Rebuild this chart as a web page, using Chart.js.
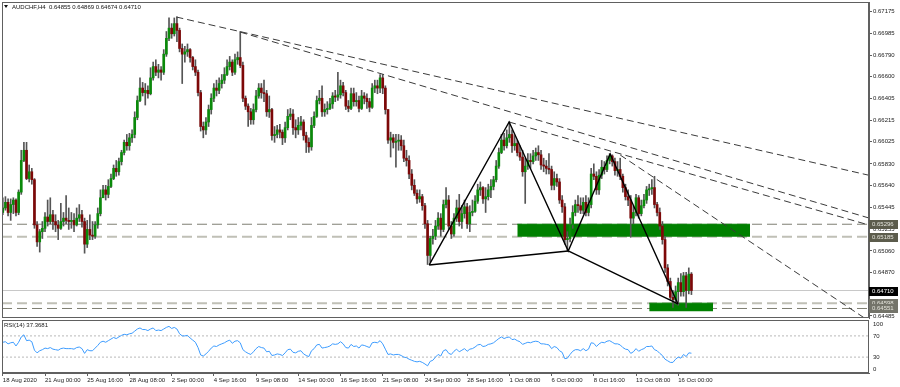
<!DOCTYPE html>
<html>
<head>
<meta charset="utf-8">
<script src="https://cdn.jsdelivr.net/npm/chart.js@4.4.1/dist/chart.umd.min.js"></script>
<style>
  html, body { margin: 0; padding: 0; background: #fff; }
  #wrap { position: relative; width: 900px; height: 387px; overflow: hidden; }
  canvas { position: absolute; left: 0; }
  #price { top: 0; }
  #rsi { top: 319px; }
</style>
</head>
<body>
<div id="wrap">
  <canvas id="price" width="900" height="319"></canvas>
  <canvas id="rsi" width="900" height="68"></canvas>
</div>
<script>
// --- data (H4 bars, index 0 = 18 Aug 2020 08:00) ---
const symbol = 'AUDCHF,H4';
const timeLabels = ['18 Aug 2020', '21 Aug 00:00', '25 Aug 16:00', '28 Aug 08:00', '2 Sep 00:00', '4 Sep 16:00',
  '9 Sep 08:00', '14 Sep 00:00', '16 Sep 16:00', '21 Sep 08:00', '24 Sep 00:00', '28 Sep 16:00',
  '1 Oct 08:00', '6 Oct 00:00', '8 Oct 16:00', '13 Oct 08:00', '16 Oct 00:00'];
const timeTickIdx = [0, 16, 32, 48, 64, 80, 96, 112, 128, 144, 160, 176, 192, 208, 224, 240, 256];
const priceTicks = [0.67175, 0.66985, 0.66790, 0.66600, 0.66405, 0.66215, 0.66025, 0.65830,
  0.65640, 0.65445, 0.65255, 0.65060, 0.64870, 0.64675, 0.64485];
const rsiTicks = [100, 70, 30, 0];
const rsiLevels = [70, 30];

const firstOpen = 0.6540;
const closes = [
  0.6544,0.6549,0.6540,0.6547,0.6551,0.6540,0.6558,0.6586,0.6595,0.6570,
  0.6576,0.6569,0.6529,0.6514,0.6523,0.6526,0.6536,0.6532,0.6538,0.6532,
  0.6529,0.6526,0.6532,0.6535,0.6533,0.6532,0.6533,0.6529,0.6535,0.6538,
  0.6532,0.6512,0.6525,0.6520,0.6519,0.6529,0.6539,0.6553,0.6560,0.6556,
  0.6563,0.6570,0.6579,0.6576,0.6585,0.6593,0.6602,0.6599,0.6606,0.6609,
  0.6624,0.6639,0.6650,0.6646,0.6648,0.6645,0.6659,0.6669,0.6664,0.6666,
  0.6664,0.6680,0.6694,0.6703,0.6698,0.6707,0.6701,0.6685,0.6680,0.6682,
  0.6684,0.6677,0.6669,0.6664,0.6646,0.6616,0.6613,0.6620,0.6631,0.6641,
  0.6650,0.6648,0.6654,0.6657,0.6662,0.6669,0.6673,0.6664,0.6675,0.6677,
  0.6670,0.6641,0.6634,0.6629,0.6622,0.6631,0.6643,0.6650,0.6646,0.6645,
  0.6629,0.6631,0.6608,0.6609,0.6613,0.6611,0.6606,0.6615,0.6625,0.6627,
  0.6615,0.6613,0.6617,0.6620,0.6608,0.6602,0.6598,0.6617,0.6625,0.6639,
  0.6641,0.6629,0.6631,0.6632,0.6636,0.6643,0.6642,0.6644,0.6652,0.6646,
  0.6634,0.6632,0.6645,0.6638,0.6639,0.6632,0.6643,0.6641,0.6638,0.6633,
  0.6650,0.6652,0.6650,0.6659,0.6650,0.6631,0.6604,0.6606,0.6602,0.6603,
  0.6604,0.6599,0.6588,0.6586,0.6574,0.6564,0.6557,0.6552,0.6554,0.6546,
  0.6530,0.6502,0.6517,0.6519,0.6528,0.6535,0.6525,0.6547,0.6551,0.6528,
  0.6521,0.6535,0.6544,0.6532,0.6539,0.6545,0.6530,0.6540,0.6541,0.6550,
  0.6560,0.6562,0.6552,0.6554,0.6560,0.6563,0.6569,0.6581,0.6593,0.6604,
  0.6599,0.6606,0.6609,0.6599,0.6601,0.6593,0.6589,0.6576,0.6581,0.6586,
  0.6585,0.6590,0.6593,0.6591,0.6582,0.6581,0.6579,0.6578,0.6564,0.6570,
  0.6567,0.6551,0.6545,0.6516,0.6517,0.6529,0.6540,0.6547,0.6546,0.6542,
  0.6549,0.6540,0.6547,0.6574,0.6572,0.6560,0.6573,0.6580,0.6578,0.6586,
  0.6590,0.6585,0.6577,0.6578,0.6572,0.6562,0.6554,0.6551,0.6535,0.6540,
  0.6553,0.6539,0.6546,0.6551,0.6560,0.6561,0.6562,0.6547,0.6540,0.6528,
  0.6516,0.6491,0.6479,0.6465,0.6463,0.6470,0.6478,0.6470,0.6484,0.6471,
  0.64855,0.64710
];
const highs = [
  0.6553,0.6554,0.6552,0.6552,0.6553,0.6552,0.6560,0.6595,0.6602,0.6602,
  0.6582,0.6579,0.6570,0.6532,0.6525,0.6532,0.6540,0.6551,0.6553,0.6542,
  0.6538,0.6533,0.6548,0.6540,0.6555,0.6544,0.6540,0.6539,0.6544,0.6547,
  0.6542,0.6535,0.6533,0.6538,0.6532,0.6532,0.6544,0.6560,0.6564,0.6564,
  0.6569,0.6574,0.6582,0.6586,0.6588,0.6595,0.6604,0.6609,0.6610,0.6613,
  0.6629,0.6643,0.6659,0.6655,0.6654,0.6652,0.6668,0.6673,0.6675,0.6671,
  0.6669,0.6684,0.6700,0.6712,0.6707,0.6712,0.6713,0.6703,0.6689,0.6687,
  0.6689,0.6685,0.6678,0.6675,0.6666,0.6648,0.6620,0.6624,0.6635,0.6645,
  0.6654,0.6657,0.6659,0.6662,0.6668,0.6675,0.6678,0.6675,0.6680,0.6682,
  0.6700,0.6673,0.6643,0.6636,0.6632,0.6636,0.6648,0.6654,0.6654,0.6657,
  0.6648,0.6643,0.6632,0.6616,0.6617,0.6618,0.6613,0.6620,0.6631,0.6632,
  0.6631,0.6622,0.6624,0.6625,0.6622,0.6611,0.6606,0.6624,0.6629,0.6643,
  0.6648,0.6652,0.6636,0.6638,0.6641,0.6646,0.6648,0.6664,0.6657,0.6655,
  0.6648,0.6639,0.6650,0.6650,0.6646,0.6643,0.6648,0.6646,0.6645,0.6641,
  0.6654,0.6657,0.6657,0.6662,0.6662,0.6652,0.6631,0.6611,0.6609,0.6609,
  0.6609,0.6608,0.6604,0.6595,0.6590,0.6578,0.6569,0.6560,0.6560,0.6556,
  0.6548,0.6533,0.6519,0.6525,0.6533,0.6540,0.6539,0.6551,0.6562,0.6555,
  0.6532,0.6539,0.6551,0.6556,0.6546,0.6551,0.6548,0.6546,0.6551,0.6555,
  0.6565,0.6567,0.6563,0.6562,0.6565,0.6569,0.6572,0.6586,0.6597,0.6609,
  0.6610,0.6613,0.6620,0.6613,0.6608,0.6604,0.6599,0.6595,0.6588,0.6592,
  0.6592,0.6595,0.6597,0.6599,0.6595,0.6588,0.6586,0.6592,0.6581,0.6576,
  0.6574,0.6570,0.6555,0.6548,0.6523,0.6535,0.6546,0.6551,0.6555,0.6553,
  0.6553,0.6555,0.6553,0.6579,0.6583,0.6576,0.6578,0.6586,0.6585,0.6590,
  0.6592,0.6591,0.6588,0.6585,0.6588,0.6574,0.6565,0.6560,0.6555,0.6546,
  0.6556,0.6555,0.6551,0.6556,0.6563,0.6565,0.6569,0.6572,0.6549,0.6544,
  0.6532,0.6519,0.6494,0.6482,0.6471,0.6475,0.6482,0.6486,0.6487,0.6487,
  0.6491,0.64869
];
const lows = [
  0.6538,0.6542,0.6537,0.6533,0.6539,0.6537,0.6538,0.6556,0.6585,0.6569,
  0.6567,0.6565,0.6526,0.6510,0.6505,0.6517,0.6523,0.6528,0.6530,0.6525,
  0.6523,0.6516,0.6525,0.6528,0.6530,0.6525,0.6526,0.6523,0.6528,0.6532,
  0.6527,0.6504,0.6509,0.6516,0.6516,0.6517,0.6526,0.6537,0.6553,0.6551,
  0.6553,0.6562,0.6569,0.6572,0.6573,0.6582,0.6591,0.6595,0.6595,0.6602,
  0.6606,0.6622,0.6638,0.6643,0.6635,0.6641,0.6644,0.6657,0.6661,0.6659,
  0.6657,0.6662,0.6678,0.6692,0.6694,0.6696,0.6691,0.6682,0.6654,0.6673,
  0.6678,0.6673,0.6666,0.6661,0.6643,0.6612,0.6606,0.6609,0.6616,0.6627,
  0.6638,0.6643,0.6645,0.6650,0.6654,0.6661,0.6666,0.6661,0.6662,0.6671,
  0.6668,0.6638,0.6631,0.6616,0.6618,0.6618,0.6629,0.6641,0.6641,0.6638,
  0.6625,0.6624,0.6604,0.6602,0.6606,0.6606,0.6600,0.6602,0.6613,0.6622,
  0.6609,0.6606,0.6609,0.6613,0.6604,0.6593,0.6593,0.6595,0.6615,0.6624,
  0.6636,0.6625,0.6625,0.6627,0.6631,0.6632,0.6638,0.6639,0.6641,0.6643,
  0.6631,0.6629,0.6631,0.6634,0.6634,0.6629,0.6631,0.6636,0.6632,0.6629,
  0.6632,0.6646,0.6645,0.6646,0.6645,0.6627,0.6601,0.6589,0.6597,0.6580,
  0.6595,0.6595,0.6585,0.6581,0.6570,0.6560,0.6555,0.6548,0.6549,0.6542,
  0.6526,0.6494,0.6496,0.6512,0.6516,0.6525,0.6519,0.6523,0.6544,0.6525,
  0.6517,0.6519,0.6532,0.6528,0.6526,0.6535,0.6526,0.6523,0.6537,0.6540,
  0.6548,0.6555,0.6548,0.6540,0.6551,0.6553,0.6560,0.6567,0.6579,0.6592,
  0.6595,0.6597,0.6602,0.6593,0.6595,0.6590,0.6586,0.6572,0.6548,0.6578,
  0.6579,0.6583,0.6586,0.6586,0.6578,0.6576,0.6574,0.6574,0.6560,0.6560,
  0.6563,0.6548,0.6540,0.6512,0.6506,0.6514,0.6526,0.6537,0.6540,0.6539,
  0.6539,0.6537,0.6537,0.6544,0.6569,0.6556,0.6556,0.6570,0.6574,0.6576,
  0.6583,0.6581,0.6573,0.6572,0.6569,0.6558,0.6551,0.6546,0.6518,0.6530,
  0.6537,0.6535,0.6537,0.6544,0.6548,0.6555,0.6556,0.6544,0.6537,0.6525,
  0.6512,0.6487,0.6475,0.6463,0.6456,0.6459,0.6458,0.6466,0.6466,0.6456,
  0.6468,0.64674
];
const rsiValues = [
  58,59,55,57,58,51,58,68,72,61,
  62,59,43,38,42,44,47,46,48,45,
  44,43,46,47,46,46,46,45,48,49,
  46,37,44,42,42,47,52,58,60,58,
  61,64,67,65,68,71,73,72,74,75,
  79,83,85,82,82,80,83,85,80,81,
  80,83,86,88,84,86,83,74,70,70,
  71,66,62,58,48,34,32,36,41,47,
  51,50,53,55,57,60,62,56,60,61,
  57,44,40,37,35,40,46,50,48,47,
  40,41,33,34,36,35,33,38,44,45,
  39,38,41,42,36,33,31,42,46,53,
  54,47,48,49,51,55,54,55,59,55,
  48,47,54,50,51,47,53,52,50,48,
  57,58,57,61,55,45,35,36,34,35,
  35,33,30,29,26,24,22,21,22,20,
  17,13.5,22,24,30,35,32,42,44,37,
  35,41,45,40,43,46,41,45,46,49,
  53,54,50,51,54,55,57,61,65,68,
  65,67,68,63,64,61,59,54,56,58,
  57,59,60,59,55,55,54,53,46,50,
  48,42,39,27,28,35,41,44,44,42,
  46,42,45,57,56,50,55,58,57,60,
  61,58,55,55,53,48,45,44,37,40,
  46,41,44,46,50,50,51,44,42,37,
  33,26,23,20,20,26,30,28,35,31,
  38,37.3681
];
const lastBar = { open: 0.64855, high: 0.64869, low: 0.64674, close: 0.64710 };

// support/resistance levels and zones
const levelPrices = [0.65296, 0.65185, 0.64598, 0.64551];
const bidPrice = 0.64710;
const tagPrices = [0.65296, 0.65185, 0.64710, 0.64598, 0.64551];
const zones = [
  { from: 195, to: 283.2, top: 0.65296, bottom: 0.65185 },
  { from: 245, to: 269.2, top: 0.64598, bottom: 0.64527 },
];
// trend lines: [start index, start price, end index, end price]
const trendLines = [
  [65.8, 0.67128, 328.3, 0.65729],
  [90.0, 0.66995, 328.3, 0.65351],
  [191.9, 0.66200, 328.3, 0.65289],
  [234.0, 0.65908, 328.3, 0.64440],
];
// harmonic pattern points X, A, B, C, D
const patternIdx = [161.6, 191.9, 214.3, 230.2, 255.9];
const patternPrice = [0.64936, 0.66200, 0.65060, 0.65917, 0.64591];

// --- view ---
const X_MIN = -0.3, X_MAX = 328.3;
const Y_MIN = 0.64467, Y_MAX = 0.67261;
const BULL = '#0a8a0a';
const BEAR = '#7d0808';
const FRAME = '#606060';

Chart.defaults.font.family = '"Liberation Sans", Arial, sans-serif';
Chart.defaults.font.size = 6;
Chart.defaults.color = '#1a1a1a';
Chart.defaults.animation = false;

const opens = closes.map((c, i) => i === 0 ? firstOpen : closes[i - 1]);

function hLine(y, color, width, dash, order) {
  return {
    type: 'line',
    data: [{ x: X_MIN, y }, { x: X_MAX, y }],
    borderColor: color, borderWidth: width, borderDash: dash,
    pointRadius: 0, fill: false, order,
  };
}

// axis labels at the ends must not shrink the plot area
function fixWidth(w) {
  return s => {
    s.width = w;
    s.paddingTop = 0;
    s.paddingBottom = 0;
  };
}

const frame = {
  id: 'frame',
  afterDraw(chart) {
    const { ctx, chartArea: a } = chart;
    ctx.save();
    ctx.strokeStyle = FRAME;
    ctx.lineWidth = 1;
    ctx.strokeRect(Math.round(a.left) + 0.5, Math.round(a.top) + 0.5,
      Math.round(a.right - a.left) - 1, Math.round(a.bottom - a.top) - 1);
    ctx.restore();
  },
};

const priceTags = {
  id: 'priceTags',
  afterDraw(chart) {
    const { ctx, chartArea: a } = chart;
    const y = chart.scales.y;
    ctx.save();
    ctx.font = '6px "Liberation Sans", Arial, sans-serif';
    ctx.textBaseline = 'middle';
    tagPrices.forEach(p => {
      const py = Math.round(y.getPixelForValue(p));
      const isBid = p === bidPrice;
      ctx.fillStyle = isBid ? '#000' : (p > 0.65 ? '#5c5c4c' : '#74746a');
      ctx.fillRect(a.right, py - 4, 29, 9);
      ctx.fillStyle = isBid ? '#fff' : '#e4e4dc';
      ctx.fillText(p.toFixed(5), a.right + 3, py + 0.5);
    });
    // header
    ctx.fillStyle = '#111';
    ctx.beginPath();
    ctx.moveTo(4, 5); ctx.lineTo(8, 5); ctx.lineTo(6, 8); ctx.closePath();
    ctx.fill();
    const q = [lastBar.open, lastBar.high, lastBar.low, lastBar.close].map(v => v.toFixed(5)).join(' ');
    ctx.fillText(symbol + '  ' + q, 12, 7);
    ctx.restore();
  },
};

const datasets = [];
datasets.push(hLine(levelPrices[0], '#7f7f72', 1, [10, 5], 9));
datasets.push(hLine(levelPrices[1], '#c0c0b6', 2, [10, 5], 9));
datasets.push(hLine(levelPrices[2], '#c0c0b6', 2, [10, 5], 9));
datasets.push(hLine(levelPrices[3], '#7f7f72', 1, [10, 5], 9));
datasets.push(hLine(bidPrice, '#c8c8c8', 1, [], 9));
// zones sit over the level lines but under the candles
zones.forEach(z => datasets.push({
  type: 'line',
  data: [{ x: z.from, y: z.top }, { x: z.to, y: z.top }],
  borderColor: '#008000', borderWidth: 1, backgroundColor: '#008000',
  fill: { value: z.bottom }, pointRadius: 0, order: 8,
}));

datasets.push({
  type: 'bar',
  data: closes.map((c, i) => ({ x: i, y: [lows[i], highs[i]] })),
  backgroundColor: '#555',
  barThickness: 1, grouped: false, order: 5,
});
datasets.push({
  type: 'bar',
  data: closes.map((c, i) => ({ x: i, y: [Math.min(opens[i], c), Math.max(opens[i], c)] })),
  backgroundColor: closes.map((c, i) => c >= opens[i] ? BULL : BEAR),
  barThickness: 2, minBarLength: 1, grouped: false, order: 4,
});

trendLines.forEach(t => datasets.push({
  type: 'line',
  data: [{ x: t[0], y: t[1] }, { x: t[2], y: t[3] }],
  borderColor: '#3a3a3a', borderWidth: 1, borderDash: [7, 4],
  pointRadius: 0, fill: false, order: 2,
}));

const pt = k => ({ x: patternIdx[k], y: patternPrice[k] });
[[0, 1, 2, 3, 4], [0, 2], [2, 4]].forEach(path => datasets.push({
  type: 'line',
  data: path.map(pt),
  borderColor: '#000', borderWidth: 1.4,
  pointRadius: 0, fill: false, order: 1,
}));

new Chart(document.getElementById('price'), {
  type: 'bar',
  data: { datasets },
  options: {
    responsive: false,
    events: [],
    layout: { padding: { left: 2, top: 2, right: 0, bottom: 1 } },
    plugins: { legend: { display: false }, tooltip: { enabled: false } },
    scales: {
      x: { type: 'linear', display: false, min: X_MIN, max: X_MAX, offset: false },
      y: {
        position: 'right', min: Y_MIN, max: Y_MAX,
        afterFit: fixWidth(31),
        afterBuildTicks: s => { s.ticks = priceTicks.map(v => ({ value: v })); },
        ticks: { callback: v => Number(v).toFixed(5), padding: 1, autoSkip: false },
        grid: { drawOnChartArea: false, tickLength: 3, color: FRAME },
        border: { color: FRAME },
      },
    },
  },
  plugins: [frame, priceTags],
});

const rsiText = {
  id: 'rsiText',
  afterDraw(chart) {
    const { ctx, chartArea: a } = chart;
    const y = chart.scales.y;
    ctx.save();
    ctx.font = '6px "Liberation Sans", Arial, sans-serif';
    ctx.fillStyle = '#1a1a1a';
    ctx.textBaseline = 'middle';
    rsiTicks.forEach(v => {
      const py = Math.min(Math.max(y.getPixelForValue(v), a.top + 4), a.bottom - 4);
      ctx.fillText(String(v), a.right + 4, py);
    });
    ctx.fillText('RSI(14) ' + rsiValues[rsiValues.length - 1].toFixed(4), 4, a.top + 5.5);
    ctx.restore();
  },
};

new Chart(document.getElementById('rsi'), {
  type: 'line',
  data: {
    datasets: [
      {
        data: rsiValues.map((v, i) => ({ x: i, y: v })),
        borderColor: '#3d9cff', borderWidth: 1, pointRadius: 0, order: 1,
      },
      ...rsiLevels.map(l => ({
        data: [{ x: X_MIN, y: l }, { x: X_MAX, y: l }],
        borderColor: '#b8b8b8', borderWidth: 1, borderDash: [2, 2], pointRadius: 0, order: 2,
      })),
    ],
  },
  options: {
    responsive: false,
    events: [],
    layout: { padding: { left: 2, top: 1, right: 0, bottom: 0 } },
    plugins: { legend: { display: false }, tooltip: { enabled: false } },
    scales: {
      x: {
        type: 'linear', min: X_MIN, max: X_MAX,
        afterFit: s => { s.height = 14; s.paddingLeft = 0; s.paddingRight = 0; },
        afterBuildTicks: s => { s.ticks = timeTickIdx.map(v => ({ value: v })); },
        ticks: {
          align: 'start', maxRotation: 0, autoSkip: false, padding: 1,
          callback: v => timeLabels[timeTickIdx.indexOf(v)],
        },
        grid: { drawOnChartArea: false, tickLength: 3, color: FRAME },
        border: { color: FRAME },
      },
      y: {
        position: 'right', min: 0, max: 100,
        afterFit: fixWidth(31),
        ticks: { display: false },
        grid: { display: false },
        border: { display: false },
      },
    },
  },
  plugins: [frame, rsiText],
});
</script>
</body>
</html>
